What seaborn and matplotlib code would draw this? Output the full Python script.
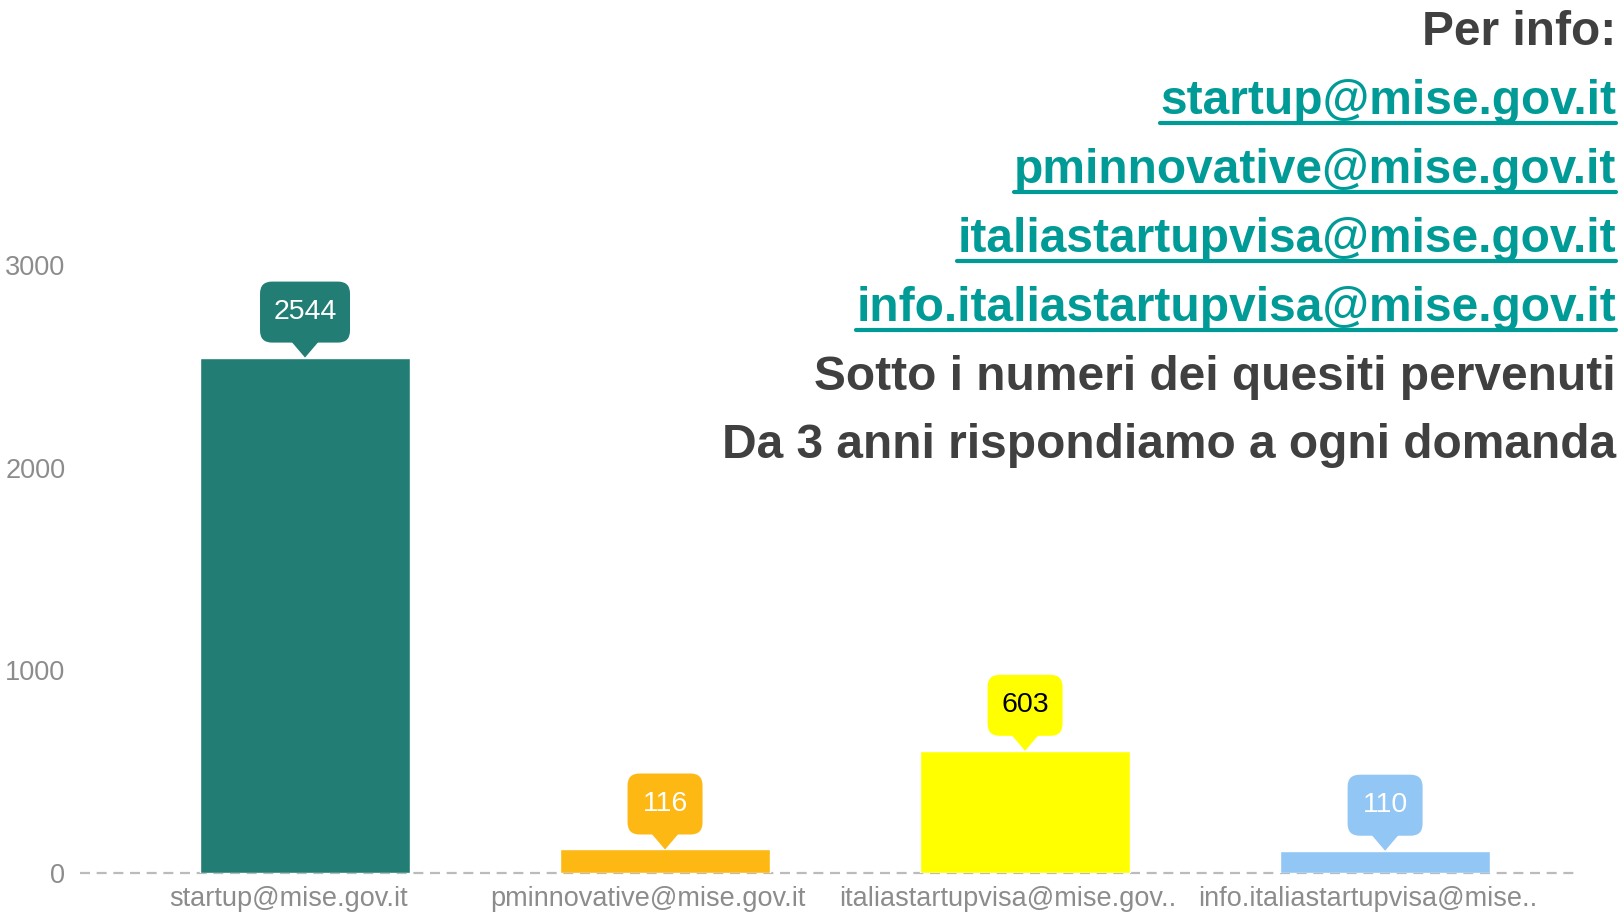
import matplotlib
matplotlib.use("Agg")
import matplotlib.pyplot as plt
import matplotlib.transforms as mtransforms
from matplotlib.patches import FancyBboxPatch, Polygon
from matplotlib.lines import Line2D
import seaborn as sns
import pandas as pd

# ---- data ----
categories = ["startup@mise.gov.it", "pminnovative@mise.gov.it",
              "italiastartupvisa@mise.gov..", "info.italiastartupvisa@mise.."]
values = [2544, 116, 603, 110]
bar_colors = ["#227E74", "#FDB813", "#FFFF00", "#92C6F5"]
label_colors = ["white", "white", "black", "white"]
yticks = [0, 1000, 2000, 3000]

header_lines = ["Per info:",
                "startup@mise.gov.it",
                "pminnovative@mise.gov.it",
                "italiastartupvisa@mise.gov.it",
                "info.italiastartupvisa@mise.gov.it",
                "Sotto i numeri dei quesiti pervenuti",
                "Da 3 anni rispondiamo a ogni domanda"]
header_is_link = [False, True, True, True, True, False, False]

sns.set_theme(style="white")
plt.rcParams["font.family"] = ["Liberation Sans", "DejaVu Sans"]

W, H, DPI = 1618, 915, 100
fig = plt.figure(figsize=(W / DPI, H / DPI), dpi=DPI)
ax = fig.add_axes([80 / W, 42 / H, (1577 - 80) / W, 4 * 202.6 / H])

df = pd.DataFrame({"cat": categories, "val": values})
sns.barplot(data=df, x="cat", y="val", hue="cat", palette=bar_colors,
            legend=False, width=0.585, saturation=1, ax=ax, zorder=2)

ax.set_xlim(-0.625, 3.533)
ax.set_ylim(0, 4000)
for s in ax.spines.values():
    s.set_visible(False)
ax.set_xlabel("")
ax.set_ylabel("")
ax.grid(False)
ax.axhline(0, color="#bbbbbb", lw=1.6, ls=(0, (4.5, 3)), zorder=1, clip_on=False)

ax.set_yticks(yticks)
ax.set_yticklabels([str(t) for t in yticks])
ax.tick_params(axis="y", length=0, pad=10.5, labelsize=19.5, labelcolor="#8c8c8c")
ax.set_xticks(range(len(categories)))
ax.set_xticklabels(categories)
ax.tick_params(axis="x", length=0, pad=9.5, labelsize=19.5, labelcolor="#8c8c8c")
shift = mtransforms.ScaledTranslation(-17 / DPI, 0, fig.dpi_scale_trans)
for lab in ax.get_xticklabels():
    lab.set_transform(lab.get_transform() + shift)

# ---- callouts (sizes in points, anchored at each bar top) ----
px = 72 / DPI
ph = 15 * px      # pointer height
pb = 28 * px      # pointer base
bh = 61 * px      # box height
rr = 12 * px      # corner radius
for i, (v, c, tc) in enumerate(zip(values, bar_colors, label_colors)):
    txt = str(v)
    bw = (90 if len(txt) >= 4 else 75) * px
    tr = (mtransforms.Affine2D().scale(DPI / 72)
          + mtransforms.ScaledTranslation(i, v, ax.transData))
    box = FancyBboxPatch((-bw / 2, ph), bw, bh,
                         boxstyle=f"round,pad=0,rounding_size={rr}",
                         fc=c, ec="none", transform=tr, zorder=3, clip_on=False)
    tri = Polygon([(-pb / 2, ph + 1), (pb / 2, ph + 1), (0, 0)], closed=True,
                  fc=c, ec="none", transform=tr, zorder=3, clip_on=False)
    ax.add_patch(box)
    ax.add_patch(tri)
    ax.annotate(txt, xy=(i, v), xytext=(0, ph + bh / 2), textcoords="offset points",
                ha="center", va="center", fontsize=20.5, color=tc, zorder=4)

# ---- header text top right ----
baselines = [45, 114, 183, 252, 321, 390, 458]
texts = []
for s, b, link in zip(header_lines, baselines, header_is_link):
    t = fig.text(1616 / W, 1 - b / H, s, ha="right", va="baseline",
                 fontsize=34.5, fontweight="bold",
                 color="#009B96" if link else "#404040")
    texts.append((t, link))

fig.canvas.draw()
renderer = fig.canvas.get_renderer()
for t, link in texts:
    if not link:
        continue
    bb = t.get_window_extent(renderer)
    y = bb.y0 + 1
    fig.add_artist(Line2D([bb.x0 / W, bb.x1 / W], [y / H, y / H],
                          color="#009B96", lw=3.0, transform=fig.transFigure))

fig.savefig("out.png", dpi=DPI)
